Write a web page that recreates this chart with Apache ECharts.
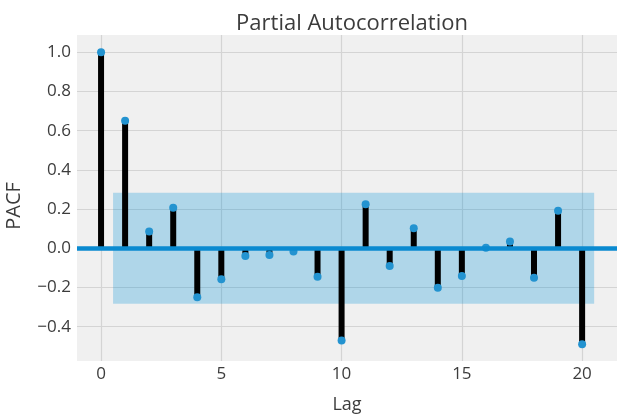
<!DOCTYPE html>
<html>
<head>
<meta charset="utf-8">
<script src="https://cdn.jsdelivr.net/npm/echarts@6/dist/echarts.min.js"></script>
<style>
  html, body { margin: 0; padding: 0; background: #ffffff; }
  #chart { width: 617px; height: 417px; }
</style>
</head>
<body>
<div id="chart"></div>
<script>
// Partial autocorrelation by lag
const lags = [0, 1, 2, 3, 4, 5, 6, 7, 8, 9, 10, 11, 12, 13, 14, 15, 16, 17, 18, 19, 20];
const pacf = [1.0, 0.651, 0.085, 0.207, -0.25, -0.158, -0.039, -0.034, -0.017, -0.145,
              -0.471, 0.224, -0.09, 0.102, -0.201, -0.141, 0.003, 0.034, -0.15, 0.192, -0.49];
// 95% confidence bound around zero
const confBound = 0.283;
const xTicks = [0, 5, 10, 15, 20];
const yTicks = [-0.4, -0.2, 0.0, 0.2, 0.4, 0.6, 0.8, 1.0];

const points = lags.map((l, i) => [l, pacf[i]]);
const font = '"Open Sans", "Noto Sans", sans-serif';
const textColor = '#3c3c3c';

const chart = echarts.init(document.getElementById('chart'), null, { renderer: 'canvas' });
chart.setOption({
  backgroundColor: '#ffffff',
  animation: false,
  title: {
    text: 'Partial Autocorrelation',
    left: 347, top: 8, textAlign: 'center',
    textStyle: { fontFamily: font, fontSize: 22, fontWeight: 'normal', color: textColor }
  },
  grid: {
    left: 77, right: 0, top: 35, bottom: 56,
    outerBoundsMode: 'none',
    show: true, backgroundColor: '#f0f0f0', borderWidth: 0
  },
  xAxis: {
    type: 'value', min: -1, max: 21.45,
    name: 'Lag', nameLocation: 'middle', nameGap: 35,
    nameTextStyle: { fontFamily: font, fontSize: 18, color: textColor },
    axisLine: { show: false },
    axisTick: { show: false, customValues: xTicks },
    axisLabel: { customValues: xTicks, margin: 5, fontFamily: font, fontSize: 17, color: textColor },
    splitLine: { show: true, lineStyle: { color: '#d4d4d4', width: 1.2 } }
  },
  yAxis: {
    type: 'value', min: -0.575, max: 1.088,
    name: 'PACF', nameLocation: 'middle', nameGap: 53, nameRotate: 90,
    nameTextStyle: { fontFamily: font, fontSize: 20, color: textColor, padding: [0, 16, 0, 0] },
    axisLine: { show: false },
    axisTick: { show: false, customValues: yTicks },
    axisLabel: {
      customValues: yTicks, margin: 6, fontFamily: font, fontSize: 17, color: textColor,
      formatter: v => (v < -1e-9 ? '\u2212' : '') + Math.abs(v).toFixed(1)
    },
    splitLine: { show: true, lineStyle: { color: '#d4d4d4', width: 1.2 } }
  },
  series: [
    {
      // confidence band
      type: 'line', data: [], z: 1, silent: true,
      markArea: {
        silent: true,
        itemStyle: { color: 'rgba(0,143,213,0.27)' },
        data: [[{ xAxis: lags[0] + 0.5, yAxis: -confBound }, { xAxis: lags[lags.length - 1] + 0.5, yAxis: confBound }]]
      }
    },
    {
      // stems
      type: 'bar', data: points, barWidth: 6, z: 2,
      itemStyle: { color: '#000000' }
    },
    {
      // zero line
      type: 'line', data: [], z: 3, silent: true,
      markLine: {
        silent: true, symbol: 'none', label: { show: false },
        lineStyle: { color: '#0a8ad0', width: 4.5, type: 'solid' },
        data: [{ yAxis: 0 }]
      }
    },
    {
      // markers
      type: 'scatter', data: points, symbolSize: 8, z: 4,
      itemStyle: { color: '#2393d0', opacity: 1 }
    }
  ]
});
</script>
</body>
</html>
